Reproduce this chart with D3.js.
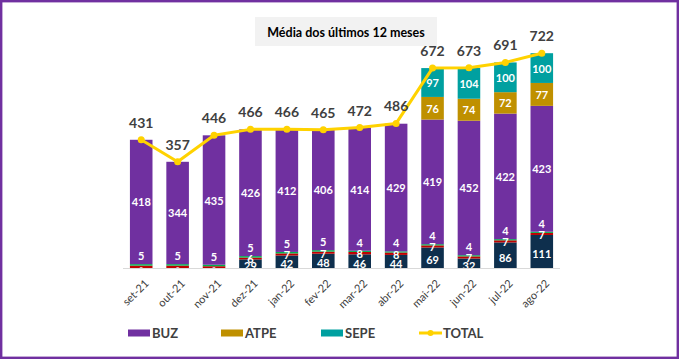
<!DOCTYPE html>
<html><head><meta charset="utf-8">
<script src="https://cdn.jsdelivr.net/npm/d3@7"></script>
<style>body{margin:0;background:#fff}svg{display:block}</style>
</head><body>
<svg id="c" width="680" height="360"></svg>
<script>
const months = ["set-21","out-21","nov-21","dez-21","jan-22","fev-22","mar-22","abr-22","mai-22","jun-22","jul-22","ago-22"];
const outros = [0,0,0,29,42,48,46,44,69,32,86,111];
const vermelho = [8,8,6,6,7,7,8,8,7,7,7,7];
const verde = [5,5,5,5,5,5,4,4,4,4,4,4];
const buz = [418,344,435,426,412,406,414,429,419,452,422,423];
const atpe = [0,0,0,0,0,0,0,0,76,74,72,77];
const sepe = [0,0,0,0,0,0,0,0,97,104,100,100];
const total = [431,357,446,466,466,465,472,486,672,673,691,722];
const titleText = "Média dos últimos 12 meses";

const svg = d3.select("#c");
const font = "Lato, 'Open Sans', sans-serif";
const txt = "#404040";

svg.append("rect").attr("x",1.2).attr("y",1.2).attr("width",676.6).attr("height",356.6)
  .attr("fill","#fff").attr("stroke","#7030A0").attr("stroke-width",2.4);

const x = d3.scaleBand().domain(months).range([123,560]).paddingInner(0.38).paddingOuter(0.19);
const y = d3.scaleLinear().domain([0,800]).range([268,30]);

const keys = ["outros","vermelho","verde","buz","atpe","sepe"];
const colors = {outros:"#0E2F4D",vermelho:"#C00000",verde:"#00B050",buz:"#7030A0",atpe:"#BF9000",sepe:"#00A0A0"};
const src = {outros,vermelho,verde,buz,atpe,sepe};
const rows = months.map((m,i)=>{const r={m};keys.forEach(k=>r[k]=src[k][i]);return r;});
const stack = d3.stack().keys(keys)(rows);

const g = svg.append("g");
stack.forEach(s=>{
  g.selectAll(null).data(s).enter().append("rect")
    .attr("x",d=>x(d.data.m)).attr("width",x.bandwidth())
    .attr("y",d=>y(d[1])).attr("height",d=>Math.max(0,y(d[0])-y(d[1])))
    .attr("fill",colors[s.key]);
});

// axis line
svg.append("line").attr("x1",x.range()[0]).attr("x2",x.range()[1])
  .attr("y1",y(0)+0.5).attr("y2",y(0)+0.5).attr("stroke","#D9D9D9").attr("stroke-width",1);

// segment labels
function lab(key, dy, fs, cond){
  const s = stack.find(d=>d.key===key);
  g.selectAll(null).data(s.filter(cond)).enter().append("text")
    .attr("x",d=>x(d.data.m)+x.bandwidth()/2)
    .attr("y",d=>(y(d[0])+y(d[1]))/2+dy)
    .attr("text-anchor","middle").attr("dominant-baseline","central")
    .attr("fill","#fff").attr("font-family",font).attr("font-weight","bold")
    .attr("font-size",fs).text(d=>d[1]-d[0]);
}
lab("buz",0,11,d=>true);
lab("atpe",0,11,d=>d[1]-d[0]>0);
lab("sepe",0,11,d=>d[1]-d[0]>0);
lab("verde",-9,11,d=>true);
lab("vermelho",0.5,11,(d,i)=>rows.indexOf(d.data)>2);
lab("outros",2,11,d=>d[1]-d[0]>0);
lab("outros",0,6,d=>d[1]-d[0]===0);

// total line
const cx = m=>x(m)+x.bandwidth()/2;
const line = d3.line().x((d,i)=>cx(months[i])).y(d=>y(d));
svg.append("path").datum(total).attr("d",line).attr("fill","none")
  .attr("stroke","#FFD200").attr("stroke-width",3).attr("stroke-linejoin","round");
svg.selectAll(null).data(total).enter().append("circle")
  .attr("cx",(d,i)=>cx(months[i])).attr("cy",d=>y(d)).attr("r",3.5).attr("fill","#FFD200");
svg.selectAll(null).data(total).enter().append("text")
  .attr("x",(d,i)=>cx(months[i])).attr("y",d=>y(d)-12)
  .attr("text-anchor","middle").attr("fill",txt).attr("font-family",font)
  .attr("font-weight","bold").attr("font-size",14).text(d=>d);

// x labels
svg.selectAll(null).data(months).enter().append("text")
  .attr("transform",m=>`translate(${cx(m)+5},${281}) rotate(-45)`)
  .attr("text-anchor","end").attr("dominant-baseline","central")
  .attr("fill",txt).attr("font-family",font).attr("font-size",11).text(m=>m);

// title
svg.append("rect").attr("x",255).attr("y",17).attr("width",182).attr("height",29).attr("fill","#F2F2F2");
svg.append("text").attr("x",346).attr("y",32).attr("text-anchor","middle").attr("dominant-baseline","central")
  .attr("font-family",font).attr("font-weight","bold").attr("font-size",12.5).attr("fill","#000").text(titleText);

// legend
const leg = [{k:"BUZ",c:colors.buz,x:128},{k:"ATPE",c:colors.atpe,x:221},{k:"SEPE",c:colors.sepe,x:321},{k:"TOTAL",c:"#FFD200",x:419,line:true}];
const lg = svg.append("g");
leg.forEach(l=>{
  if(l.line){
    lg.append("line").attr("x1",l.x).attr("x2",l.x+23).attr("y1",333).attr("y2",333).attr("stroke",l.c).attr("stroke-width",3);
    lg.append("circle").attr("cx",l.x+11.5).attr("cy",333).attr("r",3).attr("fill",l.c);
  } else {
    lg.append("rect").attr("x",l.x).attr("y",329.5).attr("width",22).attr("height",7).attr("fill",l.c);
  }
  lg.append("text").attr("x",l.x+24).attr("y",333).attr("dominant-baseline","central")
    .attr("font-family",font).attr("font-weight","bold").attr("font-size",13).attr("fill",txt).text(l.k);
});
</script>
</body></html>
